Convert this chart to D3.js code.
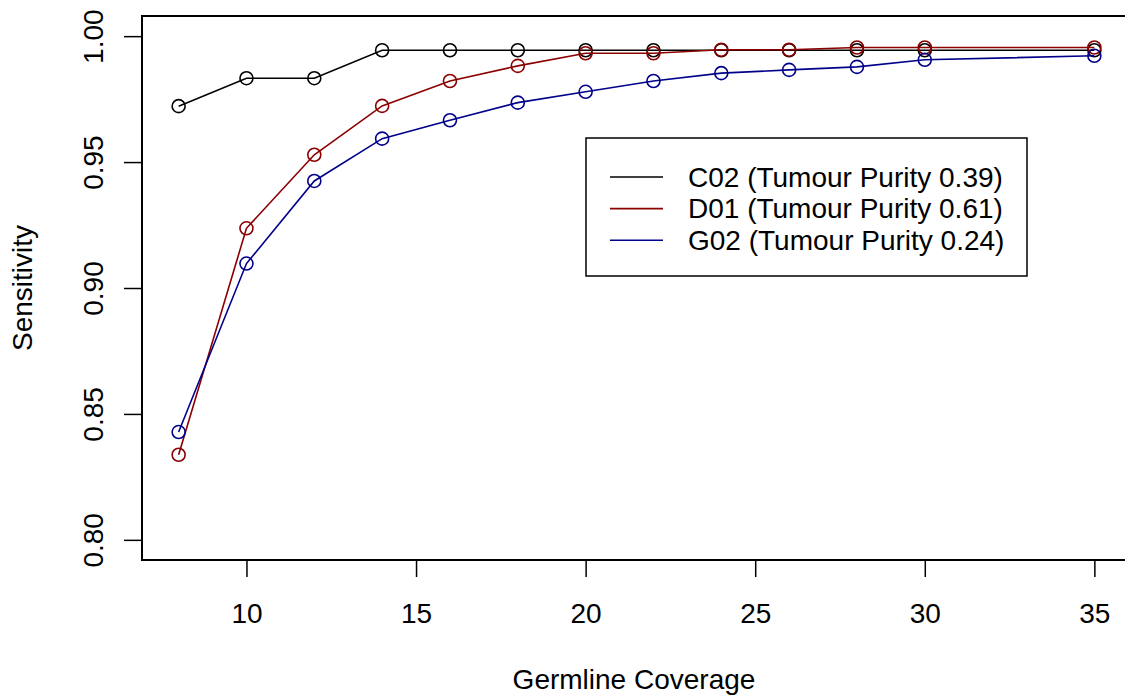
<!DOCTYPE html>
<html>
<head>
<meta charset="utf-8">
<script src="https://cdn.jsdelivr.net/npm/d3@7"></script>
<style>
  body { margin: 0; background: #fff; }
  svg text { font-family: "Liberation Sans", Arial, Helvetica, sans-serif; fill: #000; }
</style>
</head>
<body>
<div id="chart"></div>
<script>
// germline coverage values on the x axis
const coverage = [8, 10, 12, 14, 16, 18, 20, 22, 24, 26, 28, 30, 35]

// sensitivity per sample
const c02 = [0.9722, 0.9833, 0.9833, 0.9944, 0.9944, 0.9944, 0.9944, 0.9944, 0.9944, 0.9944, 0.9944, 0.9944, 0.9944]
const d01 = [0.8338, 0.9237, 0.9529, 0.9723, 0.9822, 0.9882, 0.9932, 0.9932, 0.9946, 0.9946, 0.9955, 0.9955, 0.9955]
const g02 = [0.8428, 0.9097, 0.9425, 0.9593, 0.9666, 0.9736, 0.9779, 0.9822, 0.9853, 0.9866, 0.9878, 0.9906, 0.9922]

const seriesNames = ['C02 (Tumour Purity 0.39)', 'D01 (Tumour Purity 0.61)', 'G02 (Tumour Purity 0.24)']
const seriesColors = ['#000000', '#8B0000', '#00008B']
const xTicks = [10, 15, 20, 25, 30, 35]
const yTicks = [0.80, 0.85, 0.90, 0.95, 1.00]

const W = 1125, H = 697
const fontSize = 28

let svg = d3.select('#chart')
  .append('svg')
  .attr('width', W)
  .attr('height', H)

// R style: 4% padding round the data range
let x = d3.scaleLinear().domain([6.92, 36.08]).range([142, 1131])
let y = d3.scaleLinear().domain([0.792, 1.008]).range([560, 16])

// x axis
let xAxis = svg.append('g')
  .attr('transform', 'translate(0,560)')
  .call(d3.axisBottom(x).tickValues(xTicks).tickSize(17).tickPadding(26).tickFormat(d3.format('d')))
xAxis.select('.domain').remove()
xAxis.selectAll('line').attr('stroke', '#000').attr('stroke-width', 1.5)
xAxis.selectAll('text').attr('font-size', fontSize).attr('fill', '#000')

// y axis, labels turned like R's las=0
let yAxis = svg.append('g')
  .attr('transform', 'translate(142,0)')
  .call(d3.axisLeft(y).tickValues(yTicks).tickSize(18).tickFormat(d3.format('.2f')))
yAxis.select('.domain').remove()
yAxis.selectAll('line').attr('stroke', '#000').attr('stroke-width', 1.5)
yAxis.selectAll('text')
  .attr('x', null)
  .attr('dy', null)
  .attr('text-anchor', 'middle')
  .attr('transform', 'translate(-39,0) rotate(-90)')
  .attr('font-size', fontSize)
  .attr('fill', '#000')

// plot frame
svg.append('rect')
  .attr('x', x.range()[0])
  .attr('y', y.range()[1])
  .attr('width', x.range()[1] - x.range()[0])
  .attr('height', y.range()[0] - y.range()[1])
  .attr('fill', 'none')
  .attr('stroke', '#000')
  .attr('stroke-width', 2)

// axis titles
svg.append('text')
  .attr('x', 634)
  .attr('y', 689)
  .attr('text-anchor', 'middle')
  .attr('font-size', fontSize)
  .text('Germline Coverage')

svg.append('text')
  .attr('transform', 'translate(32,288) rotate(-90)')
  .attr('text-anchor', 'middle')
  .attr('font-size', fontSize)
  .text('Sensitivity')

// lines and circles, drawn in series order
let line = d3.line()
  .x(function(d) { return x(d[0]) })
  .y(function(d) { return y(d[1]) })

const allSeries = [c02, d01, g02]
allSeries.forEach(function(vals, i) {
  let pts = coverage.map(function(c, j) { return [c, vals[j]] })
  let g = svg.append('g')
  g.append('path')
    .attr('d', line(pts))
    .attr('fill', 'none')
    .attr('stroke', seriesColors[i])
    .attr('stroke-width', 1.6)
  g.selectAll('circle')
    .data(pts)
    .enter()
    .append('circle')
    .attr('cx', function(d) { return x(d[0]) })
    .attr('cy', function(d) { return y(d[1]) })
    .attr('r', 6.5)
    .attr('fill', 'none')
    .attr('stroke', seriesColors[i])
    .attr('stroke-width', 1.6)
})

// legend
let legend = svg.append('g')
legend.append('rect')
  .attr('x', 586)
  .attr('y', 138)
  .attr('width', 441)
  .attr('height', 138)
  .attr('fill', '#fff')
  .attr('stroke', '#000')
  .attr('stroke-width', 1.5)

let rows = legend.selectAll('g.row')
  .data(seriesNames)
  .enter()
  .append('g')
  .attr('class', 'row')
  .attr('transform', function(d, i) { return 'translate(0,' + (177 + i * 31.6) + ')' })
rows.append('line')
  .attr('x1', 610)
  .attr('x2', 663)
  .attr('stroke', function(d, i) { return seriesColors[i] })
  .attr('stroke-width', 1.6)
rows.append('text')
  .attr('x', 688)
  .attr('dy', '0.35em')
  .attr('font-size', fontSize)
  .text(function(d) { return d })
</script>
</body>
</html>
